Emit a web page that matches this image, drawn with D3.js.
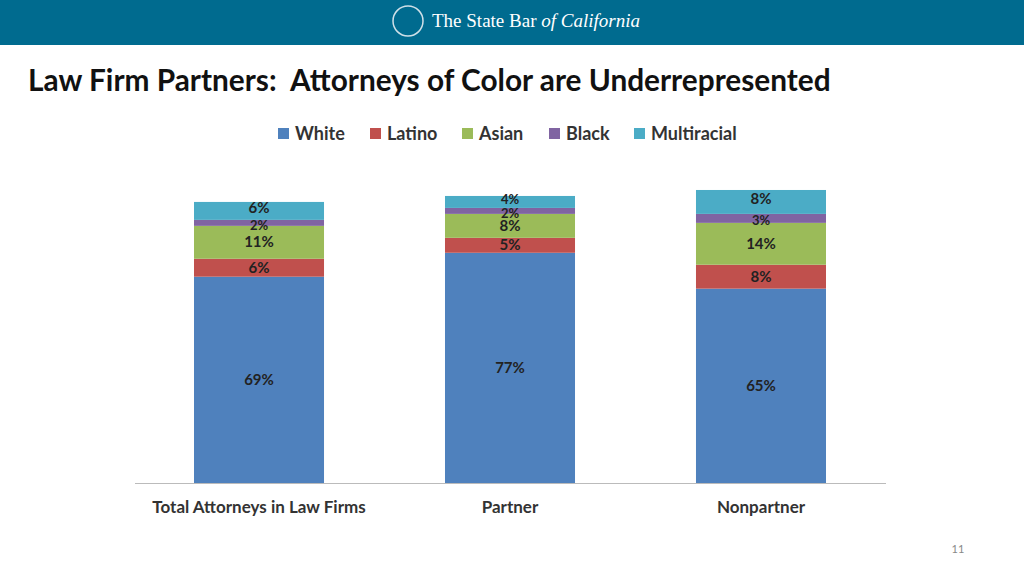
<!DOCTYPE html><html><head><meta charset="utf-8">
<script src="https://cdn.jsdelivr.net/npm/d3@7"></script>
<style>body{margin:0;background:#fff}svg{display:block}</style></head><body>
<svg id="c" width="1024" height="576"></svg>
<script>
const categories=["Total Attorneys in Law Firms","Partner","Nonpartner"];
const seriesNames=["White","Latino","Asian","Black","Multiracial"];
const white=[69,77,65];
const latino=[6,5,8];
const asian=[11,8,14];
const black=[2,2,3];
const multiracial=[6,4,8];
const colors=["#4f81bd","#c0504d","#9bbb59","#8064a2","#4bacc6"];
const vals=[white,latino,asian,black,multiracial];
const svg=d3.select("#c");
svg.append("rect").attr("width",1024).attr("height",45).attr("fill","#006b8f");
svg.append("text").attr("x",432).attr("y",27).attr("fill","#fff").attr("font-family","Liberation Serif").attr("font-size",19)
 .html('The State Bar <tspan font-style="italic">of California</tspan>');
svg.append("circle").attr("cx",408).attr("cy",21).attr("r",15).attr("fill","none").attr("stroke","#cfe0e8").attr("stroke-width",1.5);
svg.append("text").attr("x",28).attr("y",91).attr("font-family","Lato, Open Sans").attr("font-weight","bold").attr("font-size",29.8).attr("fill","#111")
 .style("white-space","pre").text("Law Firm Partners:  Attorneys of Color are Underrepresented");
const x=d3.scaleBand().domain(categories).range([194,826]).paddingInner(0.482).paddingOuter(0);
const y=d3.scaleLinear().domain([0,100]).range([483,184]);
const data=categories.map((c,i)=>{const o={cat:c};seriesNames.forEach((s,j)=>o[s]=vals[j][i]);return o;});
const stack=d3.stack().keys(seriesNames)(data);
stack.forEach((layer,j)=>{
 const g=svg.append("g");
 g.selectAll("rect").data(layer).join("rect").attr("x",d=>x(d.data.cat)).attr("width",x.bandwidth())
  .attr("y",d=>y(d[1])).attr("height",d=>y(d[0])-y(d[1])).attr("fill",colors[j]);
 g.selectAll("text").data(layer).join("text").attr("x",d=>x(d.data.cat)+x.bandwidth()/2)
  .attr("y",d=>{const m=(y(d[0])+y(d[1]))/2;return j==0?m+5:(j==3?m+7:(j==4?m+2:m+5));})
  .attr("text-anchor","middle").attr("font-family","Lato, Open Sans").attr("font-weight","bold").attr("font-size",d=>(d[1]-d[0])<=4?13:15).attr("fill","#222")
  .text(d=>d.data[seriesNames[j]]+"%");
});
svg.append("line").attr("x1",135).attr("x2",886).attr("y1",483.5).attr("y2",483.5).attr("stroke","#bbb");
const ax=svg.append("g").attr("transform","translate(0,483)").call(d3.axisBottom(x).tickSize(0).tickPadding(18));
ax.select(".domain").remove();
ax.selectAll("text").attr("font-family","Lato, Open Sans").attr("font-weight","bold").attr("font-size",17).attr("fill","#333");
const lx=[278,370,462,549,634];
seriesNames.forEach((s,j)=>{
 svg.append("rect").attr("x",lx[j]).attr("y",128).attr("width",11).attr("height",11).attr("fill",colors[j]);
 svg.append("text").attr("x",lx[j]+17).attr("y",140).attr("font-family","Lato, Open Sans").attr("font-weight","bold").attr("font-size",18).attr("fill","#333").text(s);
});
svg.append("text").attr("x",958).attr("y",553).attr("text-anchor","middle").attr("font-family","Lato").attr("font-size",11).attr("fill","#888").text("11");
</script></body></html>
